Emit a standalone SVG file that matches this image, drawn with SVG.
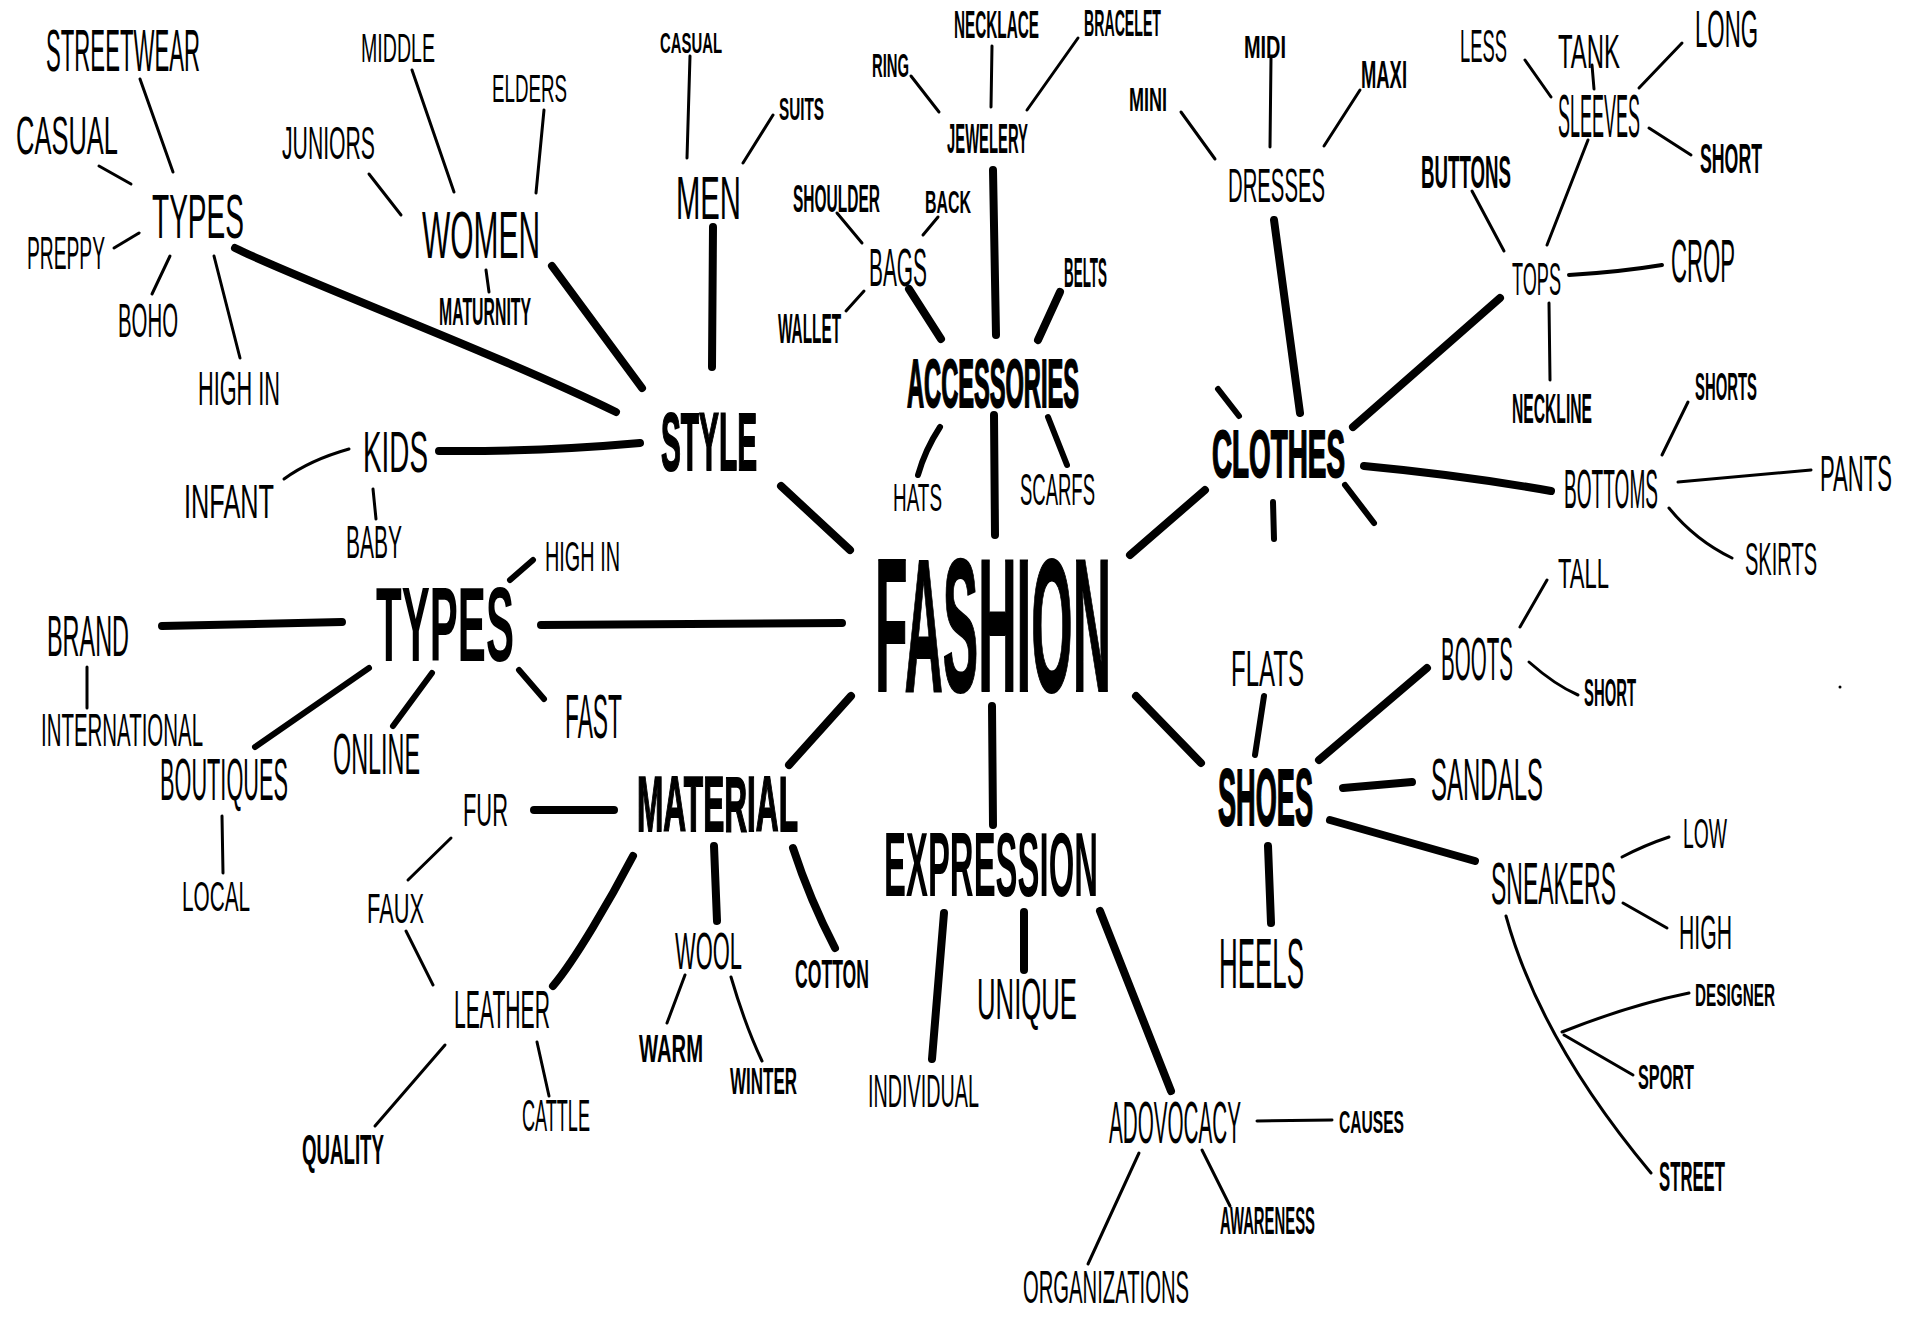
<svg xmlns="http://www.w3.org/2000/svg" width="1920" height="1329" viewBox="0 0 1920 1329">
<style>
text{font-family:"Liberation Sans Narrow","Liberation Sans",Arial,sans-serif;fill:#000;}
.t{font-weight:normal;}
.b{font-weight:bold;}
.k{font-weight:bold;stroke:#000;stroke-width:2;}
.kk{font-weight:bold;stroke:#000;stroke-width:2;}
#connectors path,#connectors line{fill:none;stroke:#000;stroke-linecap:round;stroke-linejoin:round;}
.th{stroke-width:8;}
.md{stroke-width:6;}
.tn{stroke-width:3;}
</style>
<rect width="1920" height="1329" fill="#fff"/>
<g id="connectors">
<path class="th" d="M235,248 C300,280 500,355 616,412"/>
<line class="th" x1="552" y1="266" x2="642" y2="388"/>
<line class="th" x1="713" y1="227" x2="712" y2="367"/>
<path class="th" d="M439,451 Q540,452 640,443"/>
<line class="th" x1="781" y1="486" x2="850" y2="550"/>
<line class="th" x1="993" y1="170" x2="996" y2="335"/>
<line class="th" x1="909" y1="289" x2="941" y2="339"/>
<line class="th" x1="1060" y1="292" x2="1038" y2="340"/>
<path class="md" d="M940,427 Q925,450 918,475"/>
<line class="th" x1="994" y1="415" x2="995" y2="535"/>
<line class="md" x1="1048" y1="417" x2="1067" y2="465"/>
<line class="th" x1="1274" y1="220" x2="1300" y2="413"/>
<line class="th" x1="1500" y1="298" x2="1353" y2="427"/>
<line class="th" x1="1205" y1="490" x2="1130" y2="555"/>
<line class="md" x1="1218" y1="389" x2="1239" y2="416"/>
<line class="md" x1="1273" y1="502" x2="1274" y2="539"/>
<line class="md" x1="1345" y1="485" x2="1374" y2="523"/>
<path class="th" d="M1364,466 Q1460,475 1551,491"/>
<line class="th" x1="162" y1="626" x2="342" y2="622"/>
<line class="th" x1="541" y1="625" x2="842" y2="623"/>
<line class="md" x1="369" y1="668" x2="255" y2="747"/>
<line class="md" x1="432" y1="673" x2="393" y2="726"/>
<line class="md" x1="519" y1="670" x2="544" y2="699"/>
<line class="md" x1="533" y1="560" x2="510" y2="580"/>
<line class="th" x1="534" y1="810" x2="614" y2="810"/>
<path class="th" d="M553,986 C575,960 610,900 633,856"/>
<line class="th" x1="851" y1="696" x2="789" y2="765"/>
<line class="th" x1="992" y1="706" x2="993" y2="825"/>
<line class="th" x1="1136" y1="696" x2="1201" y2="763"/>
<line class="th" x1="714" y1="846" x2="717" y2="921"/>
<path class="th" d="M793,848 Q810,900 835,948"/>
<line class="th" x1="944" y1="913" x2="932" y2="1059"/>
<line class="th" x1="1024" y1="912" x2="1024" y2="970"/>
<line class="th" x1="1100" y1="911" x2="1171" y2="1091"/>
<line class="th" x1="1268" y1="846" x2="1271" y2="923"/>
<line class="md" x1="1264" y1="696" x2="1255" y2="755"/>
<line class="th" x1="1427" y1="668" x2="1319" y2="760"/>
<line class="th" x1="1343" y1="788" x2="1412" y2="782"/>
<line class="th" x1="1330" y1="820" x2="1475" y2="861"/>
<line class="tn" x1="140" y1="79" x2="173" y2="172"/>
<line class="tn" x1="99" y1="166" x2="131" y2="184"/>
<line class="tn" x1="114" y1="248" x2="139" y2="233"/>
<line class="tn" x1="152" y1="294" x2="170" y2="256"/>
<line class="tn" x1="214" y1="256" x2="240" y2="358"/>
<line class="tn" x1="369" y1="174" x2="401" y2="215"/>
<line class="tn" x1="412" y1="70" x2="454" y2="192"/>
<line class="tn" x1="544" y1="110" x2="536" y2="193"/>
<line class="tn" x1="486" y1="270" x2="489" y2="292"/>
<line class="tn" x1="690" y1="56" x2="687" y2="158"/>
<line class="tn" x1="773" y1="115" x2="743" y2="163"/>
<line class="tn" x1="911" y1="76" x2="939" y2="112"/>
<line class="tn" x1="992" y1="46" x2="991" y2="107"/>
<line class="tn" x1="1078" y1="38" x2="1027" y2="110"/>
<line class="tn" x1="837" y1="213" x2="862" y2="243"/>
<line class="tn" x1="938" y1="217" x2="923" y2="235"/>
<line class="tn" x1="846" y1="311" x2="864" y2="291"/>
<line class="tn" x1="1181" y1="112" x2="1215" y2="159"/>
<line class="tn" x1="1271" y1="58" x2="1270" y2="147"/>
<line class="tn" x1="1360" y1="90" x2="1324" y2="146"/>
<line class="tn" x1="1525" y1="60" x2="1551" y2="97"/>
<line class="tn" x1="1592" y1="65" x2="1594" y2="89"/>
<line class="tn" x1="1682" y1="43" x2="1639" y2="88"/>
<line class="tn" x1="1649" y1="128" x2="1691" y2="155"/>
<line class="tn" x1="1588" y1="140" x2="1547" y2="245"/>
<line class="tn" x1="1472" y1="191" x2="1504" y2="251"/>
<path class="tn" d="M1569,275 Q1620,272 1662,265" style="stroke-width:4"/>
<line class="tn" x1="1549" y1="303" x2="1550" y2="380"/>
<line class="tn" x1="1662" y1="455" x2="1688" y2="402"/>
<line class="tn" x1="1678" y1="482" x2="1811" y2="470"/>
<path class="tn" d="M1669,508 Q1695,540 1732,558"/>
<line class="tn" x1="1547" y1="580" x2="1520" y2="627"/>
<path class="tn" d="M1529,662 Q1555,685 1578,695"/>
<path class="tn" d="M1622,857 Q1645,845 1669,837"/>
<line class="tn" x1="1623" y1="903" x2="1667" y2="928"/>
<path class="tn" d="M1506,916 Q1540,1040 1651,1173"/>
<path class="tn" d="M1562,1032 Q1630,1005 1689,993"/>
<line class="tn" x1="1564" y1="1035" x2="1633" y2="1075"/>
<path class="tn" d="M284,479 Q310,460 349,449"/>
<line class="tn" x1="373" y1="489" x2="376" y2="519"/>
<line class="tn" x1="87" y1="667" x2="87" y2="708"/>
<line class="tn" x1="222" y1="816" x2="223" y2="873"/>
<line class="tn" x1="451" y1="838" x2="408" y2="880"/>
<line class="tn" x1="406" y1="931" x2="433" y2="985"/>
<line class="tn" x1="445" y1="1045" x2="375" y2="1126"/>
<line class="tn" x1="537" y1="1042" x2="549" y2="1096"/>
<line class="tn" x1="685" y1="975" x2="667" y2="1023"/>
<path class="tn" d="M731,977 Q745,1025 762,1061"/>
<line class="tn" x1="1257" y1="1121" x2="1332" y2="1120"/>
<line class="tn" x1="1139" y1="1153" x2="1088" y2="1264"/>
<line class="tn" x1="1202" y1="1150" x2="1230" y2="1206"/>
</g>
<circle cx="1840" cy="687" r="1.5" fill="#000"/>
<g id="n-streetwear"><text class="t" x="46" y="71" font-size="60" textLength="154" lengthAdjust="spacingAndGlyphs">STREETWEAR</text></g>
<g id="n-casual"><text class="t" x="16" y="154" font-size="54" textLength="102" lengthAdjust="spacingAndGlyphs">CASUAL</text></g>
<g id="n-types-style"><text class="t" x="152" y="238" font-size="63" textLength="92" lengthAdjust="spacingAndGlyphs">TYPES</text></g>
<g id="n-preppy"><text class="t" x="27" y="269" font-size="47" textLength="78" lengthAdjust="spacingAndGlyphs">PREPPY</text></g>
<g id="n-boho"><text class="t" x="118" y="337" font-size="49" textLength="60" lengthAdjust="spacingAndGlyphs">BOHO</text></g>
<g id="n-highin-1"><text class="t" x="198" y="405" font-size="49" textLength="82" lengthAdjust="spacingAndGlyphs">HIGH IN</text></g>
<g id="n-juniors"><text class="t" x="282" y="159" font-size="47" textLength="93" lengthAdjust="spacingAndGlyphs">JUNIORS</text></g>
<g id="n-middle"><text class="t" x="361" y="62" font-size="40" textLength="74" lengthAdjust="spacingAndGlyphs">MIDDLE</text></g>
<g id="n-elders"><text class="t" x="492" y="102" font-size="38" textLength="75" lengthAdjust="spacingAndGlyphs">ELDERS</text></g>
<g id="n-women"><text class="t" x="422" y="258" font-size="67" textLength="118" lengthAdjust="spacingAndGlyphs">WOMEN</text></g>
<g id="n-maturnity"><text class="b" x="439" y="325" font-size="38" textLength="92" lengthAdjust="spacingAndGlyphs">MATURNITY</text></g>
<g id="n-casual-men"><text class="b" x="660" y="53" font-size="29" textLength="62" lengthAdjust="spacingAndGlyphs">CASUAL</text></g>
<g id="n-men"><text class="t" x="676" y="219" font-size="61" textLength="65" lengthAdjust="spacingAndGlyphs">MEN</text></g>
<g id="n-suits"><text class="b" x="779" y="120" font-size="32" textLength="45" lengthAdjust="spacingAndGlyphs">SUITS</text></g>
<g id="n-ring"><text class="b" x="872" y="77" font-size="34" textLength="37" lengthAdjust="spacingAndGlyphs">RING</text></g>
<g id="n-necklace"><text class="b" x="954" y="38" font-size="39" textLength="85" lengthAdjust="spacingAndGlyphs">NECKLACE</text></g>
<g id="n-bracelet"><text class="b" x="1084" y="36" font-size="36" textLength="77" lengthAdjust="spacingAndGlyphs">BRACELET</text></g>
<g id="n-jewelery"><text class="b" x="947" y="153" font-size="42" textLength="81" lengthAdjust="spacingAndGlyphs">JEWELERY</text></g>
<g id="n-shoulder"><text class="b" x="793" y="212" font-size="39" textLength="87" lengthAdjust="spacingAndGlyphs">SHOULDER</text></g>
<g id="n-back"><text class="b" x="925" y="213" font-size="32" textLength="46" lengthAdjust="spacingAndGlyphs">BACK</text></g>
<g id="n-bags"><text class="t" x="869" y="286" font-size="54" textLength="58" lengthAdjust="spacingAndGlyphs">BAGS</text></g>
<g id="n-wallet"><text class="b" x="778" y="343" font-size="42" textLength="63" lengthAdjust="spacingAndGlyphs">WALLET</text></g>
<g id="n-belts"><text class="b" x="1064" y="287" font-size="42" textLength="43" lengthAdjust="spacingAndGlyphs">BELTS</text></g>
<g id="n-accessories"><text class="k" x="907" y="407" font-size="68" textLength="172" lengthAdjust="spacingAndGlyphs">ACCESSORIES</text></g>
<g id="n-mini"><text class="b" x="1129" y="111" font-size="34" textLength="38" lengthAdjust="spacingAndGlyphs">MINI</text></g>
<g id="n-midi"><text class="b" x="1244" y="58" font-size="32" textLength="42" lengthAdjust="spacingAndGlyphs">MIDI</text></g>
<g id="n-maxi"><text class="b" x="1361" y="88" font-size="39" textLength="46" lengthAdjust="spacingAndGlyphs">MAXI</text></g>
<g id="n-dresses"><text class="t" x="1228" y="202" font-size="49" textLength="97" lengthAdjust="spacingAndGlyphs">DRESSES</text></g>
<g id="n-less"><text class="t" x="1460" y="62" font-size="47" textLength="47" lengthAdjust="spacingAndGlyphs">LESS</text></g>
<g id="n-tank"><text class="t" x="1558" y="68" font-size="49" textLength="62" lengthAdjust="spacingAndGlyphs">TANK</text></g>
<g id="n-long"><text class="t" x="1695" y="47" font-size="52" textLength="63" lengthAdjust="spacingAndGlyphs">LONG</text></g>
<g id="n-sleeves"><text class="t" x="1558" y="137" font-size="61" textLength="82" lengthAdjust="spacingAndGlyphs">SLEEVES</text></g>
<g id="n-short-sleeves"><text class="b" x="1700" y="173" font-size="43" textLength="62" lengthAdjust="spacingAndGlyphs">SHORT</text></g>
<g id="n-buttons"><text class="b" x="1421" y="188" font-size="46" textLength="90" lengthAdjust="spacingAndGlyphs">BUTTONS</text></g>
<g id="n-tops"><text class="t" x="1512" y="295" font-size="46" textLength="49" lengthAdjust="spacingAndGlyphs">TOPS</text></g>
<g id="n-crop"><text class="t" x="1671" y="282" font-size="61" textLength="64" lengthAdjust="spacingAndGlyphs">CROP</text></g>
<g id="n-neckline"><text class="b" x="1512" y="423" font-size="43" textLength="80" lengthAdjust="spacingAndGlyphs">NECKLINE</text></g>
<g id="n-shorts"><text class="b" x="1695" y="400" font-size="38" textLength="62" lengthAdjust="spacingAndGlyphs">SHORTS</text></g>
<g id="n-style"><text class="k" x="661" y="470" font-size="81" textLength="96" lengthAdjust="spacingAndGlyphs">STYLE</text></g>
<g id="n-kids"><text class="t" x="363" y="472" font-size="57" textLength="65" lengthAdjust="spacingAndGlyphs">KIDS</text></g>
<g id="n-infant"><text class="t" x="184" y="518" font-size="49" textLength="90" lengthAdjust="spacingAndGlyphs">INFANT</text></g>
<g id="n-baby"><text class="t" x="346" y="558" font-size="46" textLength="56" lengthAdjust="spacingAndGlyphs">BABY</text></g>
<g id="n-highin-2"><text class="t" x="545" y="571" font-size="43" textLength="75" lengthAdjust="spacingAndGlyphs">HIGH IN</text></g>
<g id="n-types"><text class="b" x="376" y="661" font-size="105" textLength="138" lengthAdjust="spacingAndGlyphs">TYPES</text></g>
<g id="n-brand"><text class="t" x="47" y="656" font-size="57" textLength="82" lengthAdjust="spacingAndGlyphs">BRAND</text></g>
<g id="n-international"><text class="t" x="41" y="746" font-size="46" textLength="162" lengthAdjust="spacingAndGlyphs">INTERNATIONAL</text></g>
<g id="n-boutiques"><text class="t" x="160" y="800" font-size="59" textLength="128" lengthAdjust="spacingAndGlyphs">BOUTIQUES</text></g>
<g id="n-online"><text class="t" x="333" y="774" font-size="57" textLength="87" lengthAdjust="spacingAndGlyphs">ONLINE</text></g>
<g id="n-fast"><text class="t" x="565" y="738" font-size="63" textLength="57" lengthAdjust="spacingAndGlyphs">FAST</text></g>
<g id="n-local"><text class="t" x="182" y="911" font-size="42" textLength="68" lengthAdjust="spacingAndGlyphs">LOCAL</text></g>
<g id="n-fur"><text class="t" x="463" y="826" font-size="46" textLength="45" lengthAdjust="spacingAndGlyphs">FUR</text></g>
<g id="n-faux"><text class="t" x="367" y="923" font-size="42" textLength="57" lengthAdjust="spacingAndGlyphs">FAUX</text></g>
<g id="n-leather"><text class="t" x="454" y="1028" font-size="54" textLength="96" lengthAdjust="spacingAndGlyphs">LEATHER</text></g>
<g id="n-quality"><text class="b" x="302" y="1164" font-size="43" textLength="82" lengthAdjust="spacingAndGlyphs">QUALITY</text></g>
<g id="n-cattle"><text class="t" x="522" y="1131" font-size="45" textLength="68" lengthAdjust="spacingAndGlyphs">CATTLE</text></g>
<g id="n-fashion"><text class="kk" x="875" y="691" font-size="189" textLength="236" lengthAdjust="spacingAndGlyphs">FASHION</text></g>
<g id="n-hats"><text class="t" x="893" y="511" font-size="39" textLength="49" lengthAdjust="spacingAndGlyphs">HATS</text></g>
<g id="n-scarfs"><text class="t" x="1020" y="505" font-size="45" textLength="75" lengthAdjust="spacingAndGlyphs">SCARFS</text></g>
<g id="n-clothes"><text class="k" x="1212" y="477" font-size="67" textLength="133" lengthAdjust="spacingAndGlyphs">CLOTHES</text></g>
<g id="n-bottoms"><text class="t" x="1564" y="508" font-size="56" textLength="94" lengthAdjust="spacingAndGlyphs">BOTTOMS</text></g>
<g id="n-pants"><text class="t" x="1820" y="491" font-size="50" textLength="72" lengthAdjust="spacingAndGlyphs">PANTS</text></g>
<g id="n-skirts"><text class="t" x="1745" y="575" font-size="47" textLength="72" lengthAdjust="spacingAndGlyphs">SKIRTS</text></g>
<g id="n-tall"><text class="t" x="1558" y="588" font-size="42" textLength="51" lengthAdjust="spacingAndGlyphs">TALL</text></g>
<g id="n-boots"><text class="t" x="1441" y="680" font-size="61" textLength="72" lengthAdjust="spacingAndGlyphs">BOOTS</text></g>
<g id="n-short-boots"><text class="b" x="1584" y="706" font-size="39" textLength="52" lengthAdjust="spacingAndGlyphs">SHORT</text></g>
<g id="n-flats"><text class="t" x="1231" y="686" font-size="50" textLength="73" lengthAdjust="spacingAndGlyphs">FLATS</text></g>
<g id="n-sandals"><text class="t" x="1431" y="800" font-size="59" textLength="112" lengthAdjust="spacingAndGlyphs">SANDALS</text></g>
<g id="n-shoes"><text class="k" x="1218" y="825" font-size="80" textLength="95" lengthAdjust="spacingAndGlyphs">SHOES</text></g>
<g id="n-sneakers"><text class="t" x="1491" y="904" font-size="60" textLength="125" lengthAdjust="spacingAndGlyphs">SNEAKERS</text></g>
<g id="n-low"><text class="t" x="1683" y="848" font-size="42" textLength="44" lengthAdjust="spacingAndGlyphs">LOW</text></g>
<g id="n-high"><text class="t" x="1679" y="949" font-size="49" textLength="53" lengthAdjust="spacingAndGlyphs">HIGH</text></g>
<g id="n-designer"><text class="b" x="1695" y="1006" font-size="32" textLength="80" lengthAdjust="spacingAndGlyphs">DESIGNER</text></g>
<g id="n-sport"><text class="b" x="1638" y="1089" font-size="35" textLength="56" lengthAdjust="spacingAndGlyphs">SPORT</text></g>
<g id="n-street"><text class="b" x="1659" y="1191" font-size="42" textLength="66" lengthAdjust="spacingAndGlyphs">STREET</text></g>
<g id="n-heels"><text class="t" x="1219" y="988" font-size="70" textLength="85" lengthAdjust="spacingAndGlyphs">HEELS</text></g>
<g id="n-material"><text class="k" x="637" y="831" font-size="78" textLength="161" lengthAdjust="spacingAndGlyphs">MATERIAL</text></g>
<g id="n-wool"><text class="t" x="675" y="969" font-size="52" textLength="67" lengthAdjust="spacingAndGlyphs">WOOL</text></g>
<g id="n-warm"><text class="b" x="639" y="1062" font-size="39" textLength="64" lengthAdjust="spacingAndGlyphs">WARM</text></g>
<g id="n-winter"><text class="b" x="730" y="1094" font-size="36" textLength="67" lengthAdjust="spacingAndGlyphs">WINTER</text></g>
<g id="n-cotton"><text class="b" x="795" y="988" font-size="40" textLength="74" lengthAdjust="spacingAndGlyphs">COTTON</text></g>
<g id="n-expression"><text class="b" x="884" y="896" font-size="91" textLength="214" lengthAdjust="spacingAndGlyphs">EXPRESSION</text></g>
<g id="n-individual"><text class="t" x="868" y="1107" font-size="47" textLength="111" lengthAdjust="spacingAndGlyphs">INDIVIDUAL</text></g>
<g id="n-unique"><text class="t" x="977" y="1019" font-size="57" textLength="100" lengthAdjust="spacingAndGlyphs">UNIQUE</text></g>
<g id="n-advocacy"><text class="t" x="1109" y="1143" font-size="59" textLength="132" lengthAdjust="spacingAndGlyphs">ADOVOCACY</text></g>
<g id="n-causes"><text class="b" x="1339" y="1133" font-size="32" textLength="65" lengthAdjust="spacingAndGlyphs">CAUSES</text></g>
<g id="n-organizations"><text class="t" x="1023" y="1303" font-size="47" textLength="166" lengthAdjust="spacingAndGlyphs">ORGANIZATIONS</text></g>
<g id="n-awareness"><text class="b" x="1220" y="1234" font-size="39" textLength="95" lengthAdjust="spacingAndGlyphs">AWARENESS</text></g>
</svg>
